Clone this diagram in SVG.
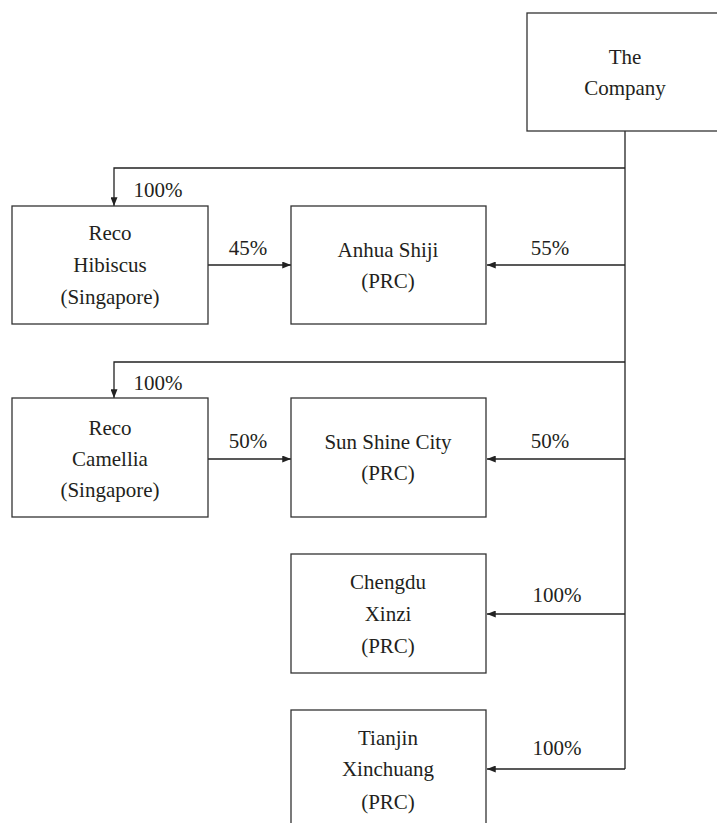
<svg xmlns="http://www.w3.org/2000/svg" width="717" height="823" viewBox="0 0 717 823">
<style>
.box{fill:#fff;stroke:#333;stroke-width:1.3}
.ln{fill:none;stroke:#222;stroke-width:1.3}
text{font-family:"Liberation Serif","Times New Roman",serif;font-size:21px;fill:#231f20;text-anchor:middle}
</style>
<defs>
<marker id="ah" viewBox="0 0 10 8" refX="10" refY="4" markerWidth="9" markerHeight="7" markerUnits="userSpaceOnUse" orient="auto">
<path d="M0,0 L10,4 L0,8 Z" fill="#222"/>
</marker>
</defs>
<rect width="717" height="823" fill="#fff"/>
<g id="connectors">
<path class="ln" d="M625,131 V769"/>
<path class="ln" d="M625,168 H114 V206" marker-end="url(#ah)"/>
<path class="ln" d="M625,362 H114 V398" marker-end="url(#ah)"/>
<path class="ln" d="M208,265 H291" marker-end="url(#ah)"/>
<path class="ln" d="M625,265 H487" marker-end="url(#ah)"/>
<path class="ln" d="M208,459 H291" marker-end="url(#ah)"/>
<path class="ln" d="M625,459 H487" marker-end="url(#ah)"/>
<path class="ln" d="M625,614 H487" marker-end="url(#ah)"/>
<path class="ln" d="M625,769 H487" marker-end="url(#ah)"/>
<text x="158" y="197">100%</text>
<text x="248" y="255">45%</text>
<text x="550" y="255">55%</text>
<text x="158" y="390">100%</text>
<text x="248" y="448">50%</text>
<text x="550" y="448">50%</text>
<text x="557" y="602">100%</text>
<text x="557" y="755">100%</text>
</g>
<g id="company">
<rect class="box" x="527" y="13" width="196" height="118"/>
<text x="625" y="64">The</text>
<text x="625" y="95">Company</text>
</g>
<g id="reco-hibiscus">
<rect class="box" x="12" y="206" width="196" height="118"/>
<text x="110" y="240">Reco</text>
<text x="110" y="272">Hibiscus</text>
<text x="110" y="304">(Singapore)</text>
</g>
<g id="anhua-shiji">
<rect class="box" x="291" y="206" width="195" height="118"/>
<text x="388" y="257">Anhua Shiji</text>
<text x="388" y="288">(PRC)</text>
</g>
<g id="reco-camellia">
<rect class="box" x="12" y="398" width="196" height="119"/>
<text x="110" y="435">Reco</text>
<text x="110" y="466">Camellia</text>
<text x="110" y="497">(Singapore)</text>
</g>
<g id="sun-shine-city">
<rect class="box" x="291" y="398" width="195" height="119"/>
<text x="388" y="449">Sun Shine City</text>
<text x="388" y="480">(PRC)</text>
</g>
<g id="chengdu-xinzi">
<rect class="box" x="291" y="554" width="195" height="119"/>
<text x="388" y="589">Chengdu</text>
<text x="388" y="621">Xinzi</text>
<text x="388" y="653">(PRC)</text>
</g>
<g id="tianjin-xinchuang">
<rect class="box" x="291" y="710" width="195" height="130"/>
<text x="388" y="745">Tianjin</text>
<text x="388" y="776">Xinchuang</text>
<text x="388" y="809">(PRC)</text>
</g>
</svg>
